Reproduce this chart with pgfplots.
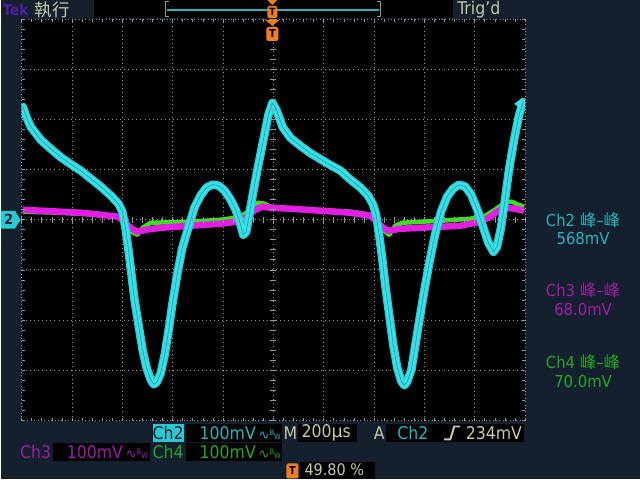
\documentclass[border=0pt]{standalone}
\usepackage{pgfplots}
\usepackage{pgfplotstable}
\pgfplotsset{compat=1.18}
\usepackage{fontspec}
\setmainfont{DejaVu Sans Condensed}
\newfontfamily\cjk{Noto Sans CJK TC}
\newfontfamily\dv{DejaVu Sans}
\definecolor{bg}{RGB}{20,32,46}
\definecolor{cyantr}{RGB}{58,224,232}
\definecolor{cyandk}{RGB}{42,200,210}
\definecolor{cyancore}{RGB}{30,160,170}
\definecolor{cyantx}{RGB}{35,180,190}
\definecolor{magtr}{RGB}{225,30,225}
\definecolor{magtx}{RGB}{160,30,165}
\definecolor{grntr}{RGB}{60,225,30}
\definecolor{grntx}{RGB}{40,165,40}
\definecolor{beige}{RGB}{200,200,165}
\definecolor{orng}{RGB}{240,125,30}
\definecolor{tekp}{RGB}{80,30,160}
\definecolor{gridc}{RGB}{150,150,155}
\newcommand\sz{\fontsize{17.5}{19}\selectfont}
\newcommand\rsz{\fontsize{16.5}{17}\selectfont}
\newcommand\bw{{\dv\fontsize{13}{13}\selectfont\char"223F}{\fontsize{7.5}{7.5}\selectfont\raisebox{4pt}{B}W}}
% Ch2 (divisions)
\pgfplotstableread{
x y
-4.98 2.25
-4.90 2.03
-4.82 1.85
-4.62 1.59
-4.42 1.41
-4.23 1.25
-4.03 1.11
-3.83 0.98
-3.63 0.82
-3.43 0.66
-3.23 0.48
-3.08 0.32
-3.00 0.16
-2.94 -0.16
-2.88 -0.60
-2.82 -1.09
-2.76 -1.59
-2.68 -2.09
-2.60 -2.59
-2.52 -2.95
-2.44 -3.18
-2.38 -3.28
-2.32 -3.24
-2.24 -3.06
-2.16 -2.69
-2.08 -2.19
-2.00 -1.63
-1.90 -1.03
-1.81 -0.56
-1.69 -0.16
-1.57 0.24
-1.45 0.48
-1.33 0.64
-1.21 0.70
-1.09 0.68
-0.97 0.58
-0.85 0.40
-0.75 0.20
-0.67 -0.04
-0.60 -0.30
-0.54 -0.24
-0.48 0.10
-0.40 0.56
-0.30 1.09
-0.20 1.59
-0.10 2.09
-0.02 2.33
0.06 2.19
0.18 1.85
0.34 1.63
0.54 1.47
0.73 1.33
0.93 1.21
1.13 1.09
1.33 0.98
1.53 0.80
1.73 0.64
1.88 0.48
1.98 0.30
2.04 0.10
2.10 -0.30
2.16 -0.76
2.22 -1.29
2.30 -1.89
2.38 -2.49
2.46 -2.95
2.54 -3.22
2.60 -3.30
2.66 -3.22
2.74 -2.99
2.82 -2.49
2.90 -1.99
3.00 -1.39
3.10 -0.84
3.21 -0.30
3.33 0.16
3.45 0.46
3.57 0.62
3.69 0.70
3.81 0.66
3.93 0.50
4.05 0.20
4.17 -0.16
4.27 -0.46
4.37 -0.64
4.44 -0.54
4.52 -0.16
4.60 0.40
4.68 1.00
4.78 1.59
4.88 2.09
4.96 2.35
}\chtwo
\pgfplotstableread{
x y
-4.98 0.20
-4.62 0.18
-4.23 0.16
-3.83 0.14
-3.43 0.10
-3.08 0.06
-2.96 -0.04
-2.84 -0.16
-2.70 -0.24
-2.54 -0.20
-2.24 -0.16
-1.65 -0.12
-1.05 -0.08
-0.75 -0.04
-0.62 0.00
-0.50 0.08
-0.36 0.20
-0.22 0.26
-0.06 0.24
0.34 0.22
0.93 0.18
1.53 0.14
1.92 0.08
2.04 -0.02
2.16 -0.14
2.28 -0.22
2.52 -0.18
2.92 -0.16
3.31 -0.14
3.71 -0.12
4.11 -0.04
4.31 0.06
4.44 0.16
4.60 0.24
4.80 0.22
4.98 0.18
}\chthree
\pgfplotstableread{
x y
-4.98 0.16
-4.23 0.14
-3.43 0.10
-3.08 0.06
-2.94 -0.08
-2.82 -0.24
-2.70 -0.30
-2.60 -0.16
-2.44 -0.06
-1.65 -0.04
-1.05 0.00
-0.75 0.04
-0.56 0.12
-0.42 0.26
-0.30 0.34
-0.18 0.32
-0.06 0.26
0.34 0.22
1.53 0.16
1.92 0.10
2.08 -0.04
2.20 -0.22
2.30 -0.30
2.42 -0.12
2.56 -0.06
3.31 -0.02
3.91 0.02
4.21 0.08
4.40 0.20
4.60 0.34
4.74 0.36
4.86 0.30
4.98 0.26
}\chfour
\begin{document}
\begin{tikzpicture}[x=1pt,y=1pt]
\fill[bg] (0,0) rectangle (640,480);
\begin{axis}[at={(21pt,59pt)},anchor=south west,
  width=504pt,height=402pt,scale only axis,
  xmin=-5,xmax=5,ymin=-4,ymax=4,
  axis background/.style={fill=black},
  xtick={-4,...,4}, ytick={-3,...,3},
  xticklabels={}, yticklabels={},
  major tick length=0pt,
  grid=major,
  grid style={gridc, dash pattern=on 0.9pt off 3.2pt, line width=0.9pt},
  axis line style={gridc, dash pattern=on 0.9pt off 2.5pt, line width=0.9pt},
]
\addplot[grntr, line width=4.5pt, line join=round] table {\chfour};
\addplot[magtr, line width=6.5pt, line join=round] table {\chthree};
\addplot[cyandk, line width=8.5pt, line join=round, line cap=round] table {\chtwo};
\addplot[cyantr, line width=6pt, line join=round, line cap=round] table {\chtwo};
\addplot[cyancore, line width=0.7pt, line join=round] table {\chtwo};
\end{axis}
% fine ticks on centre lines and border
\foreach \i in {0,...,50} {
  \draw[gridc, line width=0.8pt] ({21+10.08*\i},257) -- ({21+10.08*\i},263);
  \draw[gridc, line width=0.8pt] ({21+10.08*\i},461) -- ({21+10.08*\i},458);
  \draw[gridc, line width=0.8pt] ({21+10.08*\i},59) -- ({21+10.08*\i},62);
}
\foreach \i in {0,...,40} {
  \draw[gridc, line width=0.8pt] (270,{59+10.05*\i}) -- (276,{59+10.05*\i});
  \draw[gridc, line width=0.8pt] (21,{59+10.05*\i}) -- (24,{59+10.05*\i});
  \draw[gridc, line width=0.8pt] (525,{59+10.05*\i}) -- (522,{59+10.05*\i});
}
% top bar
\node[anchor=west, text=tekp, font=\fontsize{15}{15}\selectfont\bfseries, inner sep=0] at (2,470) {Tek};
\node[anchor=west, text=beige, font=\sz\cjk, inner sep=0] at (34,470) {執行};
\fill[black] (93,462) rectangle (453,480);
\draw[gridc, line width=1pt] (168,478) -- (165,478) -- (165,463) -- (168,463);
\draw[gridc, line width=1pt] (377,478) -- (380,478) -- (380,463) -- (377,463);
\draw[cyantx, line width=1.2pt] (166,470) -- (379,470);
\fill[orng] (267,480) -- (277,480) -- (272,475) -- cycle;
\fill[orng, rounded corners=1.5pt] (267,462) rectangle (277,474);
\node[text=black, font=\fontsize{10}{10}\selectfont\bfseries, inner sep=0] at (272,468) {T};
\node[anchor=west, text=beige, font=\sz, inner sep=0] at (457,470) {Trig'd};
% trigger position marker under top border
\fill[orng] (265,460) -- (279,460) -- (272,454) -- cycle;
\fill[orng, rounded corners=1.5pt] (266,439) rectangle (278,453);
\node[text=black, font=\fontsize{11}{11}\selectfont\bfseries, inner sep=0] at (272,446) {T};
% ch2 ground marker
\draw[grntx, line width=1.5pt] (0,268) -- (15,268);
\fill[cyandk] (0,251) -- (14,251) -- (20,260) -- (14,269) -- (0,269) -- cycle;
\node[text=bg, font=\fontsize{14}{14}\selectfont\bfseries, inner sep=0] at (8,260) {2};
% trigger level marker
\fill[cyantr] (514,376) -- (521,381) -- (521,371) -- cycle;
% right readouts
\node[text=cyantx, font=\rsz, inner sep=0] at (583,260) {Ch2 {\cjk 峰}–{\cjk 峰}};
\node[text=cyantx, font=\rsz, inner sep=0] at (583,241) {568mV};
\node[text=magtx, font=\rsz, inner sep=0] at (583,189) {Ch3 {\cjk 峰}–{\cjk 峰}};
\node[text=magtx, font=\rsz, inner sep=0] at (583,170) {68.0mV};
\node[text=grntx, font=\rsz, inner sep=0] at (583,117) {Ch4 {\cjk 峰}–{\cjk 峰}};
\node[text=grntx, font=\rsz, inner sep=0] at (583,98) {70.0mV};
% bottom row 1
\fill[cyandk] (152,37) rectangle (183,56);
\node[text=bg, font=\sz, inner sep=0] at (167.5,46.5) {Ch2};
\fill[black] (185,37) rectangle (282,56);
\node[anchor=west, text=cyantx, font=\sz, inner sep=0] at (199,46.5) {100mV\,\bw};
\node[text=beige, font=\sz, inner sep=0] at (290,46.5) {M};
\fill[black] (298,37) rectangle (357,56);
\node[anchor=west, text=beige, font=\sz, inner sep=0] at (301,46.5) {200{\dv µ}s};
\node[text=beige, font=\sz, inner sep=0] at (379,46.5) {A};
\fill[black] (386,37) rectangle (524,56);
\node[anchor=west, text=cyantx, font=\sz, inner sep=0] at (397,46.5) {Ch2};
\draw[beige, line width=2pt] (444,40) -- (450,40) -- (454,53) -- (460,53);
\node[anchor=east, text=beige, font=\sz, inner sep=0] at (522,46.5) {234mV};
% bottom row 2
\node[text=magtx, font=\sz, inner sep=0] at (35,27) {Ch3};
\fill[black] (52,18) rectangle (149,36);
\node[anchor=west, text=magtx, font=\sz, inner sep=0] at (66,27) {100mV\,\bw};
\node[text=grntx, font=\sz, inner sep=0] at (167.5,27) {Ch4};
\fill[black] (185,18) rectangle (282,36);
\node[anchor=west, text=grntx, font=\sz, inner sep=0] at (199,27) {100mV\,\bw};
% bottom row 3
\fill[orng, rounded corners=1.5pt] (286,1) rectangle (298,16);
\node[text=black, font=\fontsize{11}{11}\selectfont\bfseries, inner sep=0] at (292,8.5) {T};
\fill[black] (300,0) rectangle (375,17);
\node[anchor=west, text=beige, font=\fontsize{16}{17}\selectfont, inner sep=0] at (304,9.5) {49.80 \%};
\end{tikzpicture}
\end{document}
